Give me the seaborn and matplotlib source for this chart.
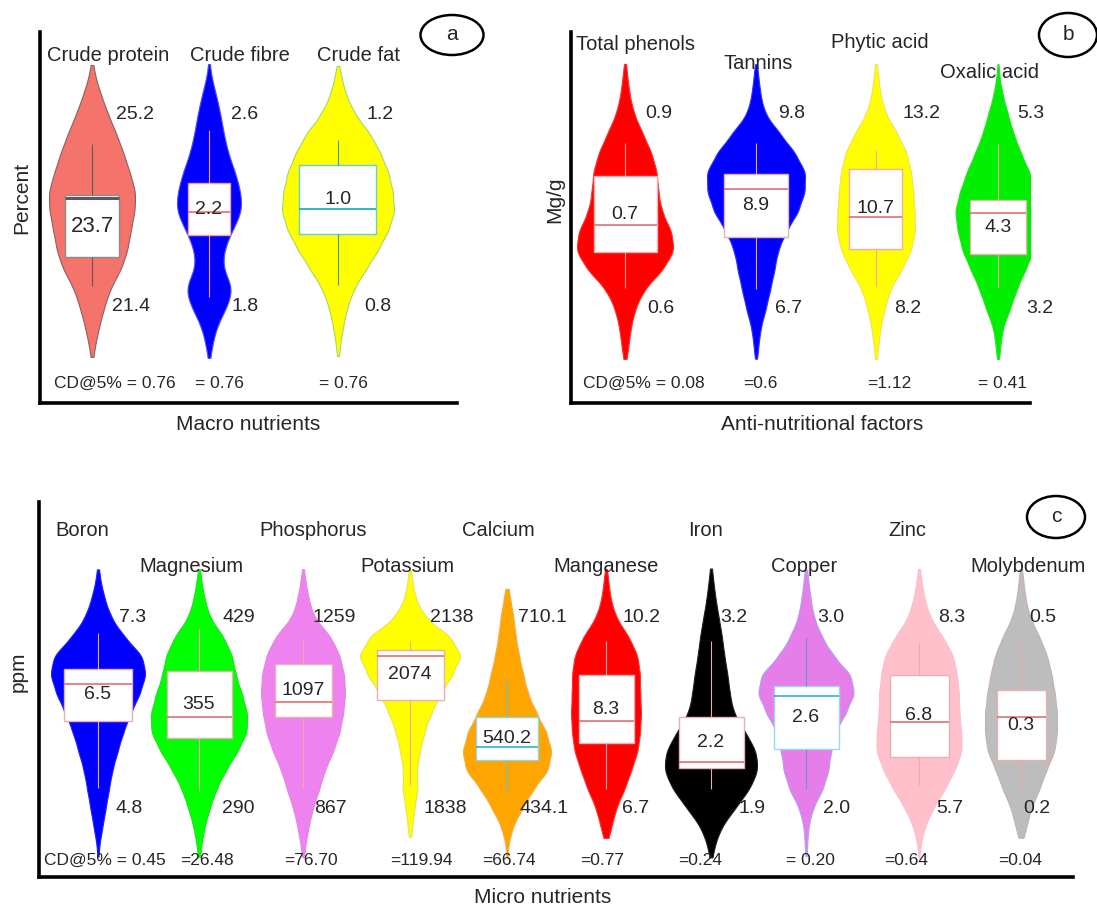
import numpy as np
import seaborn as sns
import matplotlib.pyplot as plt
from matplotlib.patches import Ellipse

# position inside each nutrient's reported range: 0 = minimum label, 1 = maximum label
levels = [-0.2, -0.1, 0.0, 0.1, 0.2, 0.3, 0.4, 0.5, 0.6, 0.7, 0.8, 0.9, 1.0, 1.1, 1.2]

# ---- (a) macro nutrients
macro = ['Crude protein', 'Crude fibre', 'Crude fat']
macro_max = ['25.2', '2.6', '1.2']
macro_min = ['21.4', '1.8', '0.8']
macro_mean = ['23.7', '2.2', '1.0']
macro_cd = ['CD@5% = 0.76', '= 0.76', '= 0.76']
macro_counts = [
    [3, 7, 12, 18, 29, 35, 38, 42, 43, 37, 31, 24, 16, 9, 3],
    [3, 7, 17, 24, 12, 14, 22, 32, 30, 25, 18, 14, 11, 7, 2],
    [2, 5, 9, 16, 28, 40, 50, 56, 54, 50, 42, 32, 17, 8, 3],
]
# whisker low, q1, median, q3, whisker high (same relative scale)
macro_box = [
    [0.11, 0.26, 0.57, 0.583, 0.85],
    [0.05, 0.375, 0.495, 0.645, 0.92],
    [0.115, 0.38, 0.51, 0.74, 0.87],
]

# ---- (b) anti-nutritional factors
anti = ['Total phenols', 'Tannins', 'Phytic acid', 'Oxalic acid']
anti_max = ['0.9', '9.8', '13.2', '5.3']
anti_min = ['0.6', '6.7', '8.2', '3.2']
anti_mean = ['0.7', '8.9', '10.7', '4.3']
anti_cd = ['CD@5% = 0.08', '=0.6', '=1.12', '= 0.41']
anti_counts = [
    [3, 5, 9, 17, 34, 45, 42, 33, 30, 29, 24, 16, 8, 4, 2],
    [2, 4, 9, 13, 17, 20, 28, 39, 45, 46, 36, 22, 8, 4, 2],
    [2, 4, 8, 13, 24, 33, 37, 36, 35, 33, 29, 20, 9, 4, 2],
    [2, 4, 11, 17, 25, 33, 37, 40, 35, 29, 21, 14, 9, 4, 1],
]
anti_box = [
    [0.11, 0.29, 0.43, 0.68, 0.85],
    [0.10, 0.37, 0.615, 0.69, 0.85],
    [0.12, 0.31, 0.47, 0.72, 0.815],
    [0.11, 0.28, 0.49, 0.56, 0.85],
]

# ---- (c) micro nutrients
micro = ['Boron', 'Magnesium', 'Phosphorus', 'Potassium', 'Calcium',
         'Manganese', 'Iron', 'Copper', 'Zinc', 'Molybdenum']
micro_max = ['7.3', '429', '1259', '2138', '710.1', '10.2', '3.2', '3.0', '8.3', '0.5']
micro_min = ['4.8', '290', '867', '1838', '434.1', '6.7', '1.9', '2.0', '5.7', '0.2']
micro_mean = ['6.5', '355', '1097', '2074', '540.2', '8.3', '2.2', '2.6', '6.8', '0.3']
micro_cd = ['CD@5% = 0.45', '=26.48', '=76.70', '=119.94', '=66.74',
            '=0.77', '=0.24', '= 0.20', '=0.64', '=0.04']
micro_counts = [
    [1, 4, 7, 10, 13, 18, 23, 30, 38, 44, 41, 24, 12, 6, 2],
    [2, 5, 10, 16, 25, 36, 45, 45, 40, 34, 31, 23, 10, 5, 2],
    [2, 5, 9, 15, 20, 28, 34, 37, 39, 38, 34, 26, 10, 5, 2],
    [0, 2, 4, 7, 6, 9, 13, 19, 28, 38, 47, 37, 14, 5, 2],
    [1, 5, 14, 24, 38, 41, 36, 27, 19, 15, 11, 8, 6, 3, 0],
    [0, 5, 9, 17, 23, 29, 31, 32, 31, 31, 29, 21, 9, 4, 2],
    [3, 9, 22, 35, 43, 41, 31, 20, 17, 15, 12, 10, 7, 4, 2],
    [1, 2, 6, 15, 20, 22, 26, 35, 43, 40, 24, 14, 7, 4, 2],
    [1, 5, 13, 24, 33, 40, 39, 37, 37, 35, 32, 22, 10, 5, 2],
    [0, 5, 9, 17, 23, 31, 33, 33, 31, 28, 24, 17, 8, 4, 2],
]
micro_box = [
    [0.105, 0.46, 0.65, 0.73, 0.92],
    [0.09, 0.37, 0.48, 0.72, 0.94],
    [0.10, 0.48, 0.56, 0.76, 0.88],
    [0.12, 0.57, 0.80, 0.83, 0.88],
    [0.08, 0.25, 0.32, 0.48, 0.69],
    [0.10, 0.34, 0.46, 0.70, 0.88],
    [0.10, 0.21, 0.24, 0.48, 0.88],
    [0.10, 0.31, 0.59, 0.64, 0.90],
    [0.12, 0.27, 0.45, 0.70, 0.87],
    [0.10, 0.25, 0.48, 0.62, 0.88],
]

# ---- layout / styles (x in pixels from the left spine)
PINK_EDGE, PINK_MED, PINK_WH = '#e8b0b0', '#e07070', '#f0a8a8'
style_a = dict(
    pos=[52, 169, 298], vw=[86, 64, 112], bw=[55, 42, 77],
    fill=['#f4736b', '#0000ff', '#ffff00'], edge=['#8a6262', '#5050ff', '#a0d870'],
    boxedge=['#8c8c8c', '#f0a0a0', '#5fd0d8'], med=['#5a5a5a', PINK_MED, '#35b5c5'],
    whisk=['#5a5a5a', PINK_WH, '#3a9a9a'], medlw=[2.2, 1.2, 1.4],
    mean_fs=[16, 14, 14],
    name_x=[68, 200, 319], name_y=[1.31, 1.31, 1.31],
    max_x=[95, 205, 340], min_x=[91, 205, 338], cd_x=[75, 179, 303], cd_y=-0.396,
    xlim=(0, 417), ylim=(-0.5, 1.432),
)
style_b = dict(
    pos=[54, 185, 305, 427], vw=[96, 98, 78, 85], bw=[63, 64, 53, 56],
    fill=['#ff0000', '#0000ff', '#ffff00', '#00ee00'],
    edge=['#ff3030', '#3030ff', '#f0e060', '#30e030'],
    boxedge=[PINK_EDGE] * 4, med=[PINK_MED] * 4, whisk=[PINK_WH] * 4, medlw=[1.2] * 4,
    mean_fs=[14] * 4,
    name_x=[65, 187, 309, 419], name_y=[1.354, 1.26, 1.364, 1.21],
    max_x=[88, 221, 351, 460], min_x=[90, 218, 337, 469],
    cd_x=[73, 189, 318, 432], cd_y=-0.38,
    xlim=(0, 459), ylim=(-0.482, 1.42),
)
style_c = dict(
    pos=[59, 160, 264, 371, 468, 567, 672, 767, 880, 982],
    vw=[94, 96, 84, 100, 88, 70, 92, 95, 85, 72],
    bw=[68, 65, 57, 67, 62, 55, 65, 65, 59, 49],
    fill=['#0000ff', '#00ff00', '#ee82ee', '#ffff00', '#ffa500',
          '#ff0000', '#000000', '#e67ee9', '#ffc0cb', '#bdbdbd'],
    edge=['#2020ff', '#20e020', '#e08ae0', '#e8e060', '#f0b050',
          '#ff3030', '#202020', '#b0a0f0', '#f8c0c8', '#c8b0b0'],
    boxedge=[PINK_EDGE] * 4 + ['#8fd8e0'] + [PINK_EDGE] * 2 + ['#9ad8e8'] + [PINK_EDGE] * 2,
    med=[PINK_MED] * 4 + ['#2cb5c8'] + [PINK_MED] * 2 + ['#2cb5c8'] + [PINK_MED] * 2,
    whisk=[PINK_WH] * 4 + ['#6fc0c0'] + [PINK_WH] * 2 + ['#7090d0'] + [PINK_WH] * 2,
    medlw=[1.2] * 10, mean_fs=[14] * 10,
    name_x=[43, 152, 274, 368, 459, 567, 666, 765, 868, 989],
    name_y=[1.458, 1.27] * 5,
    max_x=[94, 200, 295, 413, 503, 602, 695, 792, 913, 1004],
    min_x=[90, 199, 291, 406, 505, 597, 713, 798, 911, 998],
    cd_x=[66, 168, 272, 382, 470, 563, 661, 771, 867, 981], cd_y=-0.274,
    xlim=(0, 1034), ylim=(-0.363, 1.61),
)

sns.set_style('white')
plt.rcParams['font.family'] = ['Liberation Sans', 'DejaVu Sans']

W, H = 1097, 909
fig = plt.figure(figsize=(W / 100, H / 100), dpi=100)


def draw_panel(ax, names, counts, boxes, vmax, vmin, vmean, cd, st, xlabel, ylabel):
    for i in range(len(names)):
        obs = np.repeat(levels, counts[i])
        x = st['pos'][i]
        sns.violinplot(x=np.full(len(obs), x), y=obs, native_scale=True, orient='x',
                       width=st['vw'][i], color=st['fill'][i], linecolor=st['edge'][i],
                       linewidth=0.8, saturation=1, inner=None, cut=1, bw_method=0.2,
                       density_norm='width', ax=ax)
        sns.boxplot(x=np.full(len(boxes[i]), x), y=boxes[i], native_scale=True, orient='x',
                    width=st['bw'][i], whis=(0, 100), showcaps=False, fliersize=0,
                    linewidth=1, saturation=1,
                    boxprops=dict(facecolor='white', edgecolor=st['boxedge'][i], linewidth=1),
                    medianprops=dict(color=st['med'][i], linewidth=st['medlw'][i]),
                    whiskerprops=dict(color=st['whisk'][i], linewidth=0.8), ax=ax)

        ax.text(st['name_x'][i], st['name_y'][i], names[i], fontsize=14.5,
                ha='center', va='center')
        ax.text(st['max_x'][i], 1.0, vmax[i], fontsize=14, ha='center', va='center')
        ax.text(st['min_x'][i], 0.0, vmin[i], fontsize=14, ha='center', va='center')
        ax.text(x, (boxes[i][1] + boxes[i][3]) / 2, vmean[i], fontsize=st['mean_fs'][i],
                ha='center', va='center', zorder=5)
        ax.text(st['cd_x'][i], st['cd_y'], cd[i], fontsize=12.5, ha='center', va='center')

    ax.set_xlim(*st['xlim'])
    ax.set_ylim(*st['ylim'])
    ax.set_xticks([])
    ax.set_yticks([])
    sns.despine(ax=ax)
    for side in ['left', 'bottom']:
        ax.spines[side].set_linewidth(2.6)
        ax.spines[side].set_color('black')
    ax.set_xlabel(xlabel, fontsize=15)
    ax.set_ylabel(ylabel, fontsize=15)


ax_a = fig.add_axes([40 / W, 1 - 403 / H, 417 / W, 371 / H])
ax_b = fig.add_axes([571 / W, 1 - 403 / H, 459 / W, 371 / H])
ax_c = fig.add_axes([39 / W, 1 - 877 / H, 1034 / W, 375 / H])

draw_panel(ax_a, macro, macro_counts, macro_box, macro_max, macro_min, macro_mean,
           macro_cd, style_a, 'Macro nutrients', 'Percent')
draw_panel(ax_b, anti, anti_counts, anti_box, anti_max, anti_min, anti_mean,
           anti_cd, style_b, 'Anti-nutritional factors', 'Mg/g')
draw_panel(ax_c, micro, micro_counts, micro_box, micro_max, micro_min, micro_mean,
           micro_cd, style_c, 'Micro nutrients', 'ppm')

ax_a.xaxis.set_label_coords(0.499, -0.032)
ax_a.yaxis.set_label_coords(-0.022, 0.553)
ax_b.xaxis.set_label_coords(0.547, -0.032)
ax_b.yaxis.set_label_coords(-0.015, 0.547)
ax_c.xaxis.set_label_coords(0.487, -0.029)
ax_c.yaxis.set_label_coords(-0.011, 0.547)

# panel tags
for tag, cx, cy, w, h in [('a', 452, 35, 63, 40), ('b', 1068, 35, 58, 44), ('c', 1056, 517, 58, 42)]:
    fig.add_artist(Ellipse((cx / W, 1 - cy / H), w / W, h / H, transform=fig.transFigure,
                           fill=False, edgecolor='black', linewidth=1.8))
    fig.text(cx / W, 1 - cy / H, tag, fontsize=15, ha='center', va='center')

fig.savefig('out.png', dpi=100)
